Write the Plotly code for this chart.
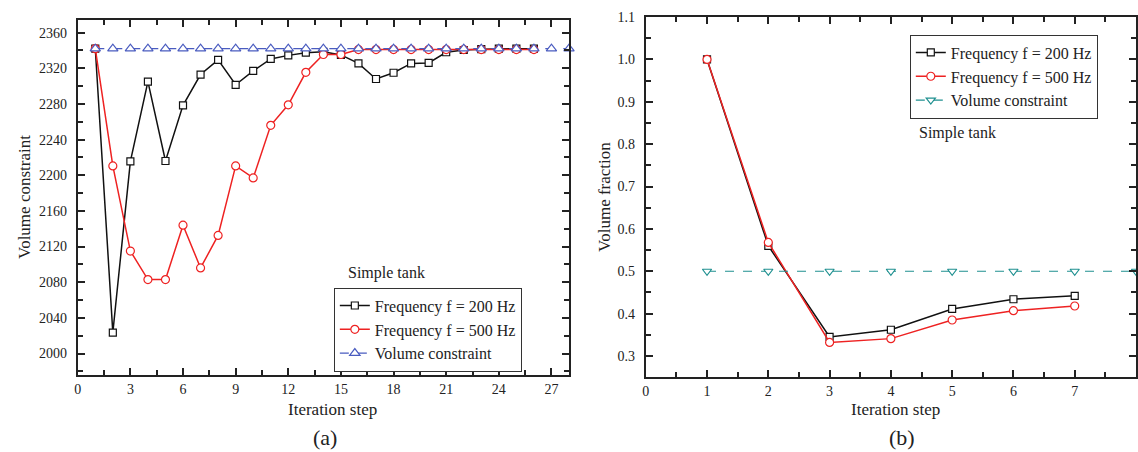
import plotly.graph_objects as go

W, H = 1138, 452

# ---------------- data (a) ----------------
steps_a = list(range(1, 27))
f200_a = [2342, 2023.5, 2215.5, 2305, 2216, 2278.5, 2313, 2329.5, 2301.5, 2317,
          2330.5, 2334.5, 2337.5, 2338.5, 2335, 2325.5, 2308, 2315, 2325.5, 2326,
          2338, 2340.5, 2341.5, 2342, 2342, 2342]
f500_a = [2342, 2210.5, 2115, 2083, 2083, 2144, 2096, 2132.5, 2210.5, 2197,
          2256, 2279, 2315.5, 2335.5, 2335.5, 2341, 2341, 2341, 2341, 2341,
          2341, 2341, 2341, 2341, 2341, 2341]
steps_ca = list(range(1, 29))
constraint_a = [2342] * 28

# ---------------- data (b) ----------------
steps_b = [1, 2, 3, 4, 5, 6, 7]
f200_b = [1.0, 0.56, 0.345, 0.362, 0.411, 0.434, 0.442]
f500_b = [1.0, 0.568, 0.332, 0.341, 0.385, 0.407, 0.418]
steps_cb = [1, 2, 3, 4, 5, 6, 7, 8]
constraint_b = [0.5] * 8

FONT = "Liberation Serif, Times New Roman, serif"
BLACK = "#111111"
RED = "#ee2222"
BLUE = "#4a5cc0"
TEAL = "#1f9090"
AX = "#222222"


def px_x(p):
    return p / W


def px_y(p):
    return 1 - p / H


fig = go.Figure()

# panel (a)
fig.add_trace(go.Scatter(x=steps_a, y=f200_a, mode="lines+markers", name="Frequency f = 200 Hz",
                         line=dict(color=BLACK, width=1.5),
                         marker=dict(symbol="square", size=7, color="white", line=dict(color=BLACK, width=1.2)),
                         xaxis="x", yaxis="y", legend="legend"))
fig.add_trace(go.Scatter(x=steps_a, y=f500_a, mode="lines+markers", name="Frequency f = 500 Hz",
                         line=dict(color=RED, width=1.5),
                         marker=dict(symbol="circle", size=8, color="white", line=dict(color=RED, width=1.2)),
                         xaxis="x", yaxis="y", legend="legend"))
fig.add_trace(go.Scatter(x=steps_ca, y=constraint_a, mode="lines+markers", name="Volume constraint",
                         line=dict(color=BLUE, width=1.2, dash="dash"), cliponaxis=False,
                         marker=dict(symbol="triangle-up", size=9, color="white", line=dict(color=BLUE, width=1.2)),
                         xaxis="x", yaxis="y", legend="legend"))

# panel (b)
fig.add_trace(go.Scatter(x=steps_b, y=f200_b, mode="lines+markers", name="Frequency f = 200 Hz",
                         line=dict(color=BLACK, width=1.5),
                         marker=dict(symbol="square", size=7, color="white", line=dict(color=BLACK, width=1.2)),
                         xaxis="x2", yaxis="y2", legend="legend2"))
fig.add_trace(go.Scatter(x=steps_b, y=f500_b, mode="lines+markers", name="Frequency f = 500 Hz",
                         line=dict(color=RED, width=1.5),
                         marker=dict(symbol="circle", size=8, color="white", line=dict(color=RED, width=1.2)),
                         xaxis="x2", yaxis="y2", legend="legend2"))
fig.add_trace(go.Scatter(x=steps_cb, y=constraint_b, mode="lines+markers", name="Volume constraint",
                         line=dict(color=TEAL, width=1.2, dash="dash"), cliponaxis=False,
                         marker=dict(symbol="triangle-down", size=8, color="white", line=dict(color=TEAL, width=1.2)),
                         xaxis="x2", yaxis="y2", legend="legend2"))

tickfont = dict(family=FONT, size=14, color=AX)
common = dict(showline=True, linecolor=AX, linewidth=2, mirror="ticks", ticks="inside",
              ticklen=7, tickwidth=1.5, tickcolor=AX, showgrid=False, zeroline=False,
              tickfont=tickfont)

legfont = dict(family=FONT, size=16, color=AX)

fig.update_layout(
    width=W, height=H, margin=dict(l=0, r=0, t=0, b=0),
    paper_bgcolor="white", plot_bgcolor="white",
    font=dict(family=FONT, color=AX),
    xaxis=dict(domain=[px_x(74), px_x(567)], anchor="y", range=[0, 28], tick0=0, dtick=3,
               minor=dict(ticks="inside", ticklen=5, dtick=1.5, tickcolor=AX, tickwidth=1.5),
               **common),
    yaxis=dict(domain=[px_y(374), px_y(13)], anchor="x", range=[1975.7, 2374.4], tick0=2000, dtick=40,
               minor=dict(ticks="inside", ticklen=5, dtick=20, tickcolor=AX, tickwidth=1.5),
               ticklabelstandoff=6, **common),
    xaxis2=dict(domain=[px_x(644), px_x(1136)], anchor="y2", range=[0, 8], tick0=0, dtick=1,
                minor=dict(ticks="inside", ticklen=5, dtick=0.5, tickcolor=AX, tickwidth=1.5),
                **common),
    yaxis2=dict(domain=[px_y(376), px_y(10)], anchor="x2", range=[0.25, 1.1005], tick0=0.3, dtick=0.1,
                tickformat=".1f",
                minor=dict(ticks="inside", ticklen=5, dtick=0.05, tickcolor=AX, tickwidth=1.5),
                ticklabelstandoff=6, **common),
    legend=dict(x=px_x(331), y=px_y(285), xanchor="left", yanchor="top",
                bordercolor="#333333", borderwidth=1, bgcolor="white",
                font=legfont, tracegroupgap=0),
    legend2=dict(x=px_x(909), y=px_y(28), xanchor="left", yanchor="top",
                 bordercolor="#333333", borderwidth=1, bgcolor="white",
                 font=legfont, tracegroupgap=0),
    showlegend=True,
)

ann = [
    dict(text="Volume constraint", x=px_x(20), y=px_y(193), textangle=-90, font=dict(size=17)),
    dict(text="Volume fraction", x=px_x(602), y=px_y(193), textangle=-90, font=dict(size=17)),
    dict(text="Iteration step", x=px_x(330), y=px_y(409), font=dict(size=17)),
    dict(text="Iteration step", x=px_x(895), y=px_y(409), font=dict(size=17)),
    dict(text="(a)", x=px_x(322), y=px_y(437), font=dict(size=22)),
    dict(text="(b)", x=px_x(901), y=px_y(437), font=dict(size=22)),
    dict(text="Simple tank", x=px_x(343), y=px_y(270), xanchor="left", font=dict(size=16)),
    dict(text="Simple tank", x=px_x(916), y=px_y(128), xanchor="left", font=dict(size=16)),
]
for a in ann:
    a.setdefault("xanchor", "center")
    a.update(xref="paper", yref="paper", showarrow=False, yanchor="middle")
    a["font"] = dict(family=FONT, color=AX, **a["font"])
fig.update_layout(annotations=ann)

fig.write_html("out.html")
